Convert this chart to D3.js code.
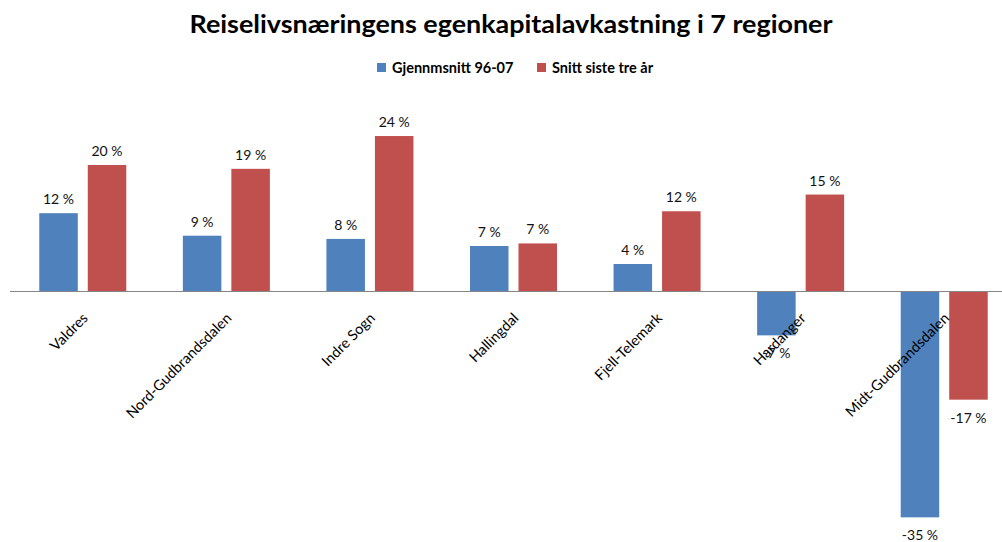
<!DOCTYPE html>
<html>
<head>
<meta charset="utf-8">
<script src="https://cdn.jsdelivr.net/npm/d3@7"></script>
<style>
  body { margin: 0; background: #fff; }
  text { font-family: Lato, "Noto Sans", sans-serif; }
</style>
</head>
<body>
<div class="container"></div>
<script>
const regions = ['Valdres', 'Nord-Gudbrandsdalen', 'Indre Sogn', 'Hallingdal',
                 'Fjell-Telemark', 'Hardanger', 'Midt-Gudbrandsdalen'];
const seriesNames = ['Gjennmsnitt 96-07', 'Snitt siste tre år'];
const avg9607 = [12.1, 8.6, 8.1, 7.0, 4.2, -6.9, -35.2];
const last3 = [19.6, 19.0, 24.1, 7.4, 12.4, 15.0, -16.9];
const colors = ['#4F81BD', '#C0504D'];

const width = 1002, height = 542;
const svg = d3.select('.container')
  .append('svg')
  .attr('width', width)
  .attr('height', height);

const x = d3.scaleBand()
  .domain(regions)
  .range([11, 1016]);
const xs = d3.scaleBand()
  .domain(seriesNames)
  .range([0, x.bandwidth()])
  .paddingInner(0.206)
  .paddingOuter(0.583);
const y = d3.scaleLinear()
  .domain([-35, 25])
  .range([291 + 35 * 6.43, 291 - 25 * 6.43]);

const fmt = v => Math.round(v) + ' %';

// title
svg.append('text')
  .attr('x', 511)
  .attr('y', 33)
  .attr('text-anchor', 'middle')
  .attr('textLength', 643)
  .attr('lengthAdjust', 'spacingAndGlyphs')
  .style('font-size', '24px')
  .style('font-weight', 'bold')
  .text('Reiselivsnæringens egenkapitalavkastning i 7 regioner');

// legend
const legendX = [377, 537];
const legend = svg.append('g').selectAll('g')
  .data(seriesNames)
  .enter().append('g')
  .attr('transform', (d, i) => `translate(${legendX[i]},63)`);
legend.append('rect')
  .attr('width', 9)
  .attr('height', 9)
  .style('fill', (d, i) => colors[i]);
legend.append('text')
  .attr('x', 15)
  .attr('y', 10)
  .style('font-size', '14.5px')
  .style('font-weight', 'bold')
  .text(d => d);

// bars
const rows = regions.map((r, i) => [r, [avg9607[i], last3[i]]]);
const groups = svg.append('g').selectAll('g')
  .data(rows)
  .enter().append('g')
  .attr('transform', d => `translate(${x(d[0])},0)`);

groups.selectAll('rect')
  .data(d => d[1].map((v, j) => [seriesNames[j], v, j]))
  .enter().append('rect')
  .attr('x', d => xs(d[0]))
  .attr('width', xs.bandwidth())
  .attr('y', d => y(Math.max(0, d[1])))
  .attr('height', d => Math.abs(y(d[1]) - y(0)))
  .style('fill', d => colors[d[2]]);

groups.selectAll('text.val')
  .data(d => d[1].map((v, j) => [seriesNames[j], v, j]))
  .enter().append('text')
  .attr('class', 'val')
  .attr('x', d => xs(d[0]) + xs.bandwidth() / 2)
  .attr('y', d => d[1] >= 0 ? y(d[1]) - 9 : y(d[1]) + 23)
  .attr('text-anchor', 'middle')
  .style('font-size', '14px')
  .style('fill', '#111')
  .text(d => fmt(d[1]));

// zero axis line
svg.append('line')
  .attr('x1', 10)
  .attr('x2', width)
  .attr('y1', Math.round(y(0)) + 0.5)
  .attr('y2', Math.round(y(0)) + 0.5)
  .style('stroke', '#868686')
  .style('stroke-width', 1);

// category labels, rotated
svg.append('g').selectAll('text')
  .data(regions)
  .enter().append('text')
  .attr('transform', d => `translate(${x(d) + x.bandwidth() / 2 + 6},${y(0) + 28}) rotate(-45)`)
  .attr('text-anchor', 'end')
  .style('font-size', '14.5px')
  .style('fill', '#000')
  .text(d => d);
</script>
</body>
</html>
